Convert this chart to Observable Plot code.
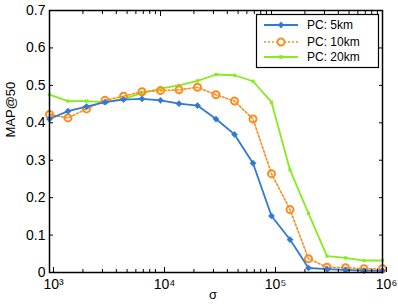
<!DOCTYPE html>
<html><head><meta charset="utf-8">
<script src="https://cdn.jsdelivr.net/npm/d3@7"></script>
<script src="https://cdn.jsdelivr.net/npm/@observablehq/plot@0.6"></script>
<style>body{margin:0;background:#fff;} svg{display:block;}</style>
</head><body><div id="chart"></div>
<script>
const sigma = [1000, 1468, 2154, 3162, 4642, 6813, 10000, 14678, 21544, 31623, 46416, 68129, 100000, 146780, 215443, 316228, 464159, 681292, 1000000];
const map5  = [0.410,0.431,0.443,0.455,0.462,0.464,0.460,0.451,0.446,0.410,0.369,0.292,0.151,0.088,0.012,0.009,0.007,0.005,0.005];
const map10 = [0.422,0.413,0.437,0.460,0.471,0.483,0.486,0.488,0.495,0.475,0.458,0.410,0.264,0.168,0.037,0.014,0.013,0.010,0.010];
const map20 = [0.475,0.458,0.458,0.455,0.464,0.479,0.491,0.500,0.512,0.529,0.527,0.511,0.455,0.274,0.158,0.044,0.039,0.032,0.032];
const seriesNames = ["PC: 5km", "PC: 10km", "PC: 20km"];
const colors = ["#2f7ad6", "#ff8a1e", "#86ec1c"];
const yTicks = [0, 0.1, 0.2, 0.3, 0.4, 0.5, 0.6, 0.7];
const xMajor = [1e3, 1e4, 1e5, 1e6];
const xMinorMult = [2, 3, 4, 5, 6, 7, 8, 9];
const sup = {3: "³", 4: "⁴", 5: "⁵", 6: "⁶"};

const xMinor = xMajor.slice(0, 3).flatMap(d => xMinorMult.map(m => m * d));
const rows = (vals, i) => sigma.map((s, j) => ({sigma: s, v: vals[j], series: seriesNames[i]}));
const d5 = rows(map5, 0), d10 = rows(map10, 1), d20 = rows(map20, 2);

function legend(index, scales, values, dims) {
  const g = d3.create("svg:g");
  const x0 = 256, y0 = 14, w = 122, h = 53;
  g.append("rect").attr("x", x0 + 0.5).attr("y", y0 + 0.5).attr("width", w).attr("height", h)
    .attr("fill", "white").attr("stroke", "black").attr("stroke-width", 1.2);
  const ys = [25, 42, 57];
  seriesNames.forEach((name, i) => {
    const y = ys[i];
    g.append("line").attr("x1", 264).attr("x2", 298).attr("y1", y).attr("y2", y)
      .attr("stroke", colors[i]).attr("stroke-width", i === 1 ? 1.6 : 1.8)
      .attr("stroke-dasharray", i === 1 ? "2,2" : null);
    const cx = 281;
    if (i === 0) g.append("path").attr("d", `M${cx},${y-3.5}L${cx+3},${y}L${cx},${y+3.5}L${cx-3},${y}Z`).attr("fill", colors[i]);
    if (i === 1) g.append("circle").attr("cx", cx).attr("cy", y).attr("r", 3.5).attr("fill", "white").attr("stroke", colors[i]).attr("stroke-width", 2);
    if (i === 2) g.append("rect").attr("x", cx - 1.8).attr("y", y - 1.8).attr("width", 3.6).attr("height", 3.6).attr("fill", colors[i]);
    g.append("text").attr("x", 307).attr("y", y).attr("dy", "0.36em").attr("text-anchor", "start")
      .attr("font-size", 12).attr("fill", "black").text(name);
  });
  return g.node();
}

const chart = Plot.plot({
  width: 398, height: 304,
  marginLeft: 49, marginRight: 16, marginTop: 10, marginBottom: 32,
  style: {fontFamily: "'Liberation Sans', Arial, sans-serif", fontSize: "13px", color: "black", background: "white"},
  x: {type: "log", domain: [1e3, 1e6]},
  y: {domain: [0, 0.7]},
  marks: [
    Plot.line(d20, {x: "sigma", y: "v", stroke: colors[2], strokeWidth: 1.8}),
    Plot.dot(d20, {x: "sigma", y: "v", symbol: "square", r: 1.8, fill: colors[2]}),
    Plot.line(d10, {x: "sigma", y: "v", stroke: colors[1], strokeWidth: 1.6, strokeDasharray: "2,2"}),
    Plot.dot(d10, {x: "sigma", y: "v", symbol: "circle", r: 3.5, stroke: colors[1], strokeWidth: 2, fill: "none"}),
    Plot.line(d5, {x: "sigma", y: "v", stroke: colors[0], strokeWidth: 1.8}),
    Plot.dot(d5, {x: "sigma", y: "v", symbol: "diamond2", r: 2.8, fill: colors[0], stroke: colors[0], strokeWidth: 0.5}),
    Plot.axisY({anchor: "left", ticks: yTicks, tickSize: -4, tickPadding: 8, label: null,
      tickFormat: d => d === 0 ? "0" : d.toFixed(1), fontSize: 14}),
    Plot.axisY({anchor: "right", ticks: yTicks, tickSize: -4, label: null, tickFormat: () => ""}),
    Plot.axisX({anchor: "bottom", ticks: xMajor, tickSize: -5, tickPadding: 12, label: null, dx: 4,
      tickFormat: d => "10" + sup[Math.round(Math.log10(d))], fontSize: 14}),
    Plot.axisX({anchor: "bottom", ticks: xMinor, tickSize: -3, label: null, tickFormat: () => ""}),
    Plot.axisX({anchor: "top", ticks: xMajor, tickSize: -5, label: null, tickFormat: () => ""}),
    Plot.axisX({anchor: "top", ticks: xMinor, tickSize: -3, label: null, tickFormat: () => ""}),
    Plot.frame({stroke: "black", strokeWidth: 1.5}),
    Plot.text(["σ"], {frameAnchor: "bottom", dy: 26, fontSize: 13, dx: -3}),
    Plot.text(["MAP@50"], {frameAnchor: "left", dx: -39, dy: -4, rotate: -90, fontSize: 13}),
    legend
  ]
});
document.getElementById("chart").append(chart);
</script>
</body></html>
